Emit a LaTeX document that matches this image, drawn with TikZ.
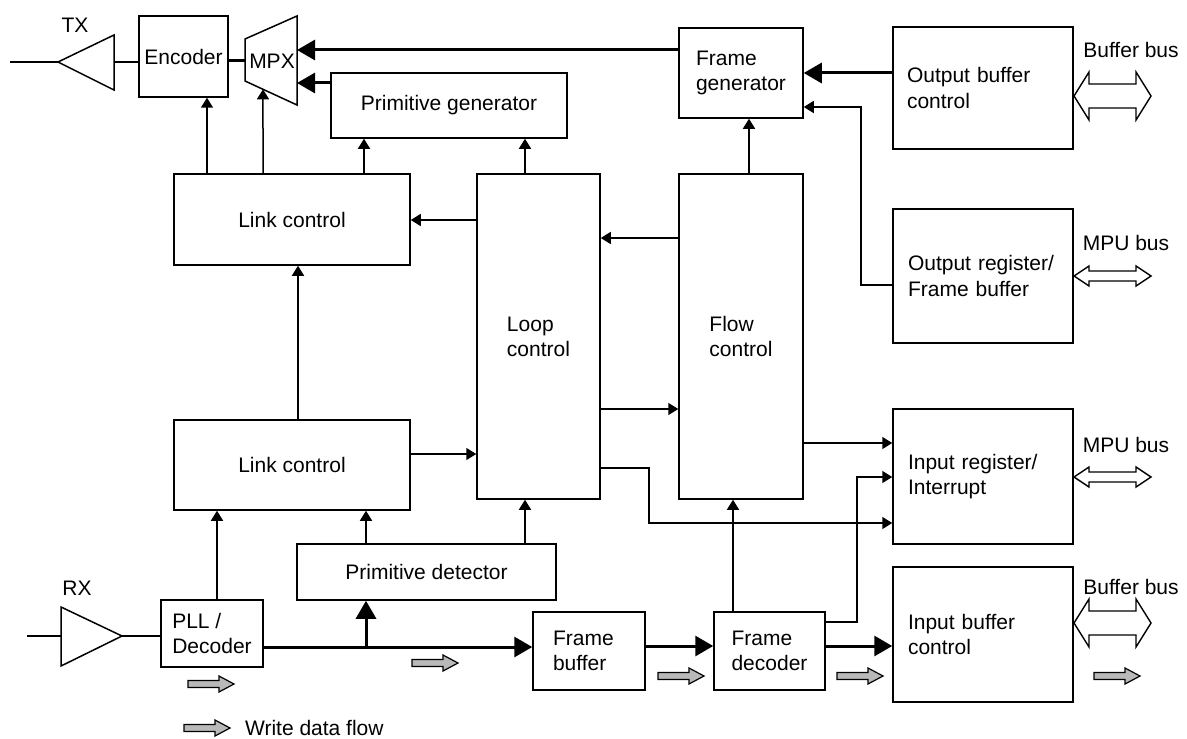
\documentclass[tikz,border=0pt]{standalone}
\usepackage{fontspec}
\setmainfont{Liberation Sans}
\usetikzlibrary{arrows.meta, calc}
\newcommand{\flowpil}[2]{\draw[fill=gray!55, line width=0.6pt] (#1,#2) ++(0,3.5) -- ++(31,0) -- ++(0,4.5) -- ++(15,-8) -- ++(-15,-8) -- ++(0,4.5) -- ++(-31,0) -- cycle;}
\newcommand{\buspil}[4]{\draw[fill=white, line width=0.7pt] (#1,#2) -- ({#1+15},{#2-#3}) -- ({#1+15},{#2-#4}) -- ({#1+62},{#2-#4}) -- ({#1+62},{#2-#3}) -- ({#1+77},#2) -- ({#1+62},{#2+#3}) -- ({#1+62},{#2+#4}) -- ({#1+15},{#2+#4}) -- ({#1+15},{#2+#3}) -- cycle;}

\begin{document}
\begin{tikzpicture}[
    x=0.5pt, y=-0.5pt,
    punkt/.style = {rectangle, draw, inner sep=0pt, line width=0.75pt},
    boks/.style n args = {4}{at={({(#1+#3)/2},{(#2+#4)/2})},
      minimum width={(#3-#1)*0.5pt}, minimum height={(#4-#2)*0.5pt}},
    venstre/.style = {align=left, text width=#1},
    pil/.style = {black, line width=0.75pt, -{Triangle[length=5pt,width=6pt]}},
    tykpil/.style = {black, line width=1.5pt, -{Triangle[length=9pt,width=10pt]}},
    tyk/.style = {black, line width=1.5pt},
    font=\fontsize{10.5}{12.6}\selectfont
    ]
  \useasboundingbox (0,0) rectangle (1187,738);

  % transmit side
  \node (tx) at (75,25) {TX};
  \coordinate (txud) at (10,62);
  \draw[line width=0.75pt] (58,62) coordinate (txspids) -- (114,35) -- (114,90) -- cycle;
  \coordinate (txbund) at (114,62);
  \node[punkt, boks={139}{16}{228}{97}] (enc) {Encoder};
  \draw[line width=0.75pt] (245,39) coordinate (mpxtl) -- (297,16) coordinate (mpxtr)
    -- (297,105) coordinate (mpxbr) -- (245,81) coordinate (mpxbl) -- cycle;
  \node (mpx) at (272,61) {MPX};
  \node[punkt, boks={331}{73}{567}{138}] (primgen) {Primitive generator};
  \node[punkt, boks={679}{28}{803}{118}, align=left] (framegen) {Frame\\generator};
  \node[punkt, boks={893}{27}{1073}{149}, venstre=76pt] (outbuf) {Output buffer\\control};
  \node[punkt, boks={893}{209}{1073}{343}, venstre=75pt] (outreg) {Output register/\\Frame buffer};

  % control blocks
  \node[punkt, boks={174}{174}{410}{265}] (linkA) {Link control};
  \node[punkt, boks={174}{420}{410}{510}] (linkB) {Link control};
  \node[punkt, boks={477}{174}{600}{499}, align=left] (loop) {Loop\\control};
  \node[punkt, boks={679}{174}{803}{499}, align=left] (flow) {Flow\\control};
  \node[punkt, boks={893}{409}{1073}{544}, venstre=75pt] (inreg) {Input register/\\Interrupt};

  % receive side
  \node (rx) at (77,588) {RX};
  \coordinate (rxud) at (27,636);
  \draw[line width=0.75pt] (61,636) coordinate (rxbund) -- (61,607) -- (122,636) coordinate (rxspids) -- (61,666) -- cycle;
  \node[punkt, boks={161}{600}{263}{667}, align=left] (pll) {PLL /\\Decoder};
  \node[punkt, boks={297}{544}{556}{600}] (primdet) {Primitive detector};
  \node[punkt, boks={533}{612}{645}{690}, venstre=36pt] (framebuf) {Frame\\buffer};
  \node[punkt, boks={714}{612}{825}{690}, align=left] (framedec) {Frame\\decoder};
  \node[punkt, boks={893}{567}{1073}{702}, venstre=75pt] (inbuf) {Input buffer\\control};
  \coordinate (split) at (366,647);

  % buses
  \node at (1131,50) {Buffer bus};
  \buspil{1074}{96}{24}{12}
  \node at (1126,243) {MPU bus};
  \buspil{1074}{276}{10}{5}
  \node at (1126,445) {MPU bus};
  \buspil{1074}{477}{10}{5}
  \node at (1131,587) {Buffer bus};
  \buspil{1074}{623}{24}{12}

  % data flow
  \flowpil{188}{684}
  \flowpil{412}{663}
  \flowpil{658}{676}
  \flowpil{837}{676}
  \flowpil{1094}{676}
  \flowpil{184}{728}
  \node[anchor=west] (legend) at (238,728) {Write data flow};

  \draw[line width=0.75pt] (txud) -- (txspids)
    (txbund) -- (enc.west |- txbund)
    (rxud) -- (rxbund)
    (rxspids) -- (pll.west |- rxspids);
  \draw[tyk] (enc.east |- 0,61) -- (mpxtl |- 0,61);
  \draw[tykpil] (framegen.west |- 0,50) -- (mpxtr |- 0,50);
  \draw[tykpil] (primgen.west |- 0,83) -- (mpxtr |- 0,83);
  \draw[tykpil] (outbuf.west |- 0,73) -- (framegen.east |- 0,73);
  \draw[tyk] (pll.east |- split) -- (split);
  \draw[tykpil] (split) -- (framebuf.west |- split);
  \draw[tykpil] (split) -- (primdet.south -| split);
  \draw[tykpil] (framebuf.east |- 0,646) -- (framedec.west |- 0,646);
  \draw[tykpil] (framedec.east |- 0,646) -- (inbuf.west |- 0,646);

  \path[pil]
  (207,0 |- linkA.north) edge (207,0 |- enc.south)
  (263,0 |- linkA.north) edge ($(mpxbl)!0.346!(mpxbr)$)
  (364,0 |- linkA.north) edge (364,0 |- primgen.south)
  (525,0 |- loop.north) edge (525,0 |- primgen.south)
  (749,0 |- flow.north) edge (749,0 |- framegen.south)
  (loop.west |- 0,220) edge (linkA.east |- 0,220)
  (flow.west |- 0,238) edge (loop.east |- 0,238)
  (loop.east |- 0,409) edge (flow.west |- 0,409)
  (linkB.east |- 0,454) edge (loop.west |- 0,454)
  (298,0 |- linkB.north) edge (298,0 |- linkA.south)
  (flow.east |- 0,443) edge (inreg.west |- 0,443)
  (733,0 |- framedec.north) edge (733,0 |- flow.south)
  (217,0 |- pll.north) edge (217,0 |- linkB.south)
  (366,0 |- primdet.north) edge (366,0 |- linkB.south)
  (525,0 |- primdet.north) edge (525,0 |- loop.south);

  \draw[pil] (outreg.west |- 0,285) -| (861,107) -- (framegen.east |- 0,107);
  \draw[pil] (loop.east |- 0,468) -| (649,523) -- (inreg.west |- 0,523);
  \draw[pil] (framedec.east |- 0,622) -| (857,477) -- (inreg.west |- 0,477);
\end{tikzpicture}
\end{document}
